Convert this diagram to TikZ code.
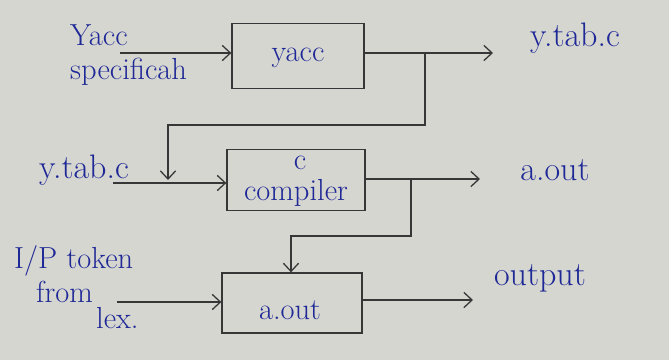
\documentclass[tikz,border=0pt]{standalone}
\usetikzlibrary{arrows.meta}
\definecolor{paper}{RGB}{214,214,208}
\definecolor{ink}{RGB}{30,40,150}
\definecolor{pencil}{RGB}{55,55,55}
\begin{document}
\begin{tikzpicture}[x=0.03cm,y=-0.03cm,
  blk/.style={draw=pencil,line width=1.1pt,inner sep=0pt},
  lbl/.style={text=ink,font=\fontsize{26}{28}\selectfont,inner sep=0pt},
  olbl/.style={text=ink,font=\fontsize{29}{31}\selectfont,inner sep=0pt},
  conn/.style={draw=pencil,line width=1.1pt},
  arr/.style={conn,-{Straight Barb[length=7pt,width=13pt,line width=1.1pt]}}]
\fill[paper] (0,0) rectangle (669,360);
\useasboundingbox (0,0) rectangle (669,360);
% boxes
\node[blk,minimum width=132*0.03cm,minimum height=65*0.03cm] (yacc) at (298,56) {};
\node[lbl] (yacctxt) at (298,58) {yacc};
\node[blk,minimum width=138*0.03cm,minimum height=61*0.03cm] (cc) at (296,180) {};
\node[lbl] (cctxt1) at (300,163) {c};
\node[lbl] (cctxt2) at (296,193) {compiler};
\node[blk,minimum width=140*0.03cm,minimum height=60*0.03cm] (ab) at (292,303) {};
\node[lbl] (abtxt) at (290,310) {a.out};
% labels
\node[lbl,anchor=west] (l1a) at (70,35) {Yacc};
\node[lbl,anchor=west] (l1b) at (70,72) {specificah};
\node[olbl] (l2) at (575,38) {y.tab.c};
\node[olbl] (l3) at (84,170) {y.tab.c};
\node[olbl] (l4) at (555,170) {a.out};
\node[lbl,anchor=west] (l5a) at (14,261) {I/P token};
\node[lbl,anchor=west] (l5b) at (36,292) {from};
\node[lbl,anchor=west] (l5c) at (96,318) {lex.};
\node[olbl] (l6) at (540,278) {output};
% coordinates
\coordinate (in1) at (120,53);
\coordinate (out1) at (493,53);
\coordinate (j1) at (425,53);
\coordinate (k1) at (168,125);
\coordinate (m1) at (168,180);
\coordinate (in2) at (113,183);
\coordinate (out2) at (480,179);
\coordinate (j2) at (411,179);
\coordinate (k2) at (291,236);
\coordinate (in3) at (117,302);
\coordinate (out3) at (473,300);
% connectors
\draw[arr] (in1) -- (in1 -| yacc.west);
\draw[arr] (out1 -| yacc.east) -- (out1);
\draw[arr] (j1) |- (k1) -- (m1);
\draw[arr] (in2) -- (in2 -| cc.west);
\draw[arr] (out2 -| cc.east) -- (out2);
\draw[arr] (j2) |- (k2) -- (k2 |- ab.north);
\draw[arr] (in3) -- (in3 -| ab.west);
\draw[arr] (out3 -| ab.east) -- (out3);
\end{tikzpicture}
\end{document}
